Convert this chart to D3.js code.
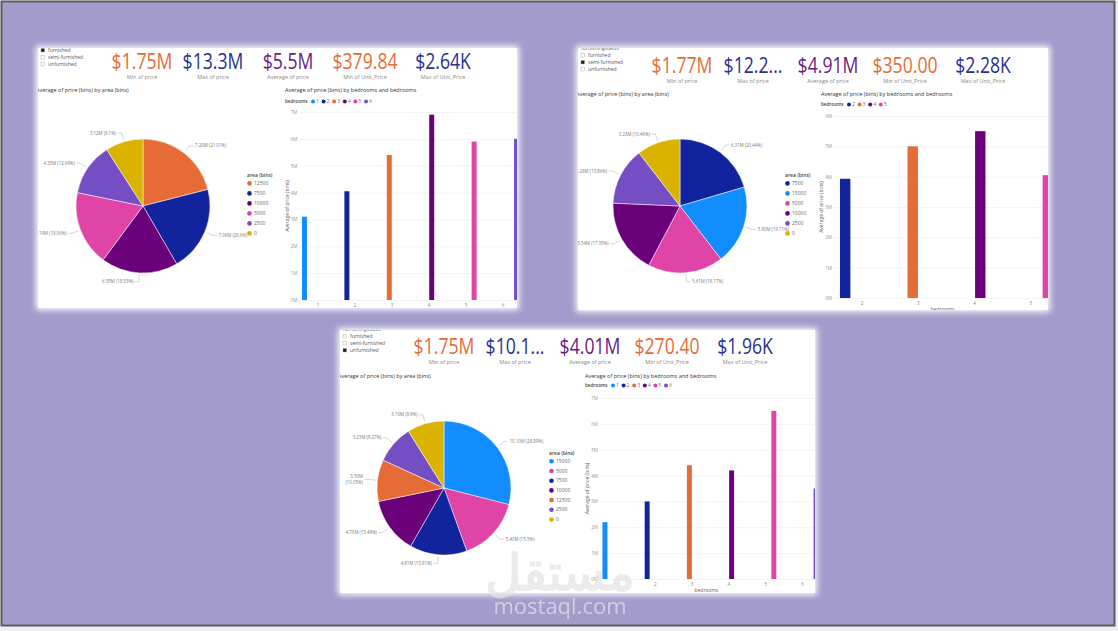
<!DOCTYPE html>
<html>
<head>
<meta charset="utf-8">
<script src="https://cdn.jsdelivr.net/npm/d3@7"></script>
<style>
  body { margin: 0; background: #efefef; }
  svg { display: block; }
  text { font-family: "Open Sans", "Noto Sans", sans-serif; }
</style>
</head>
<body>
<div id="chart"></div>
<script>
// ---- data ----
const furnishingStatus = ["furnished", "semi-furnished", "unfurnished"];
const kpiLabels = ["Min of price", "Max of price", "Average of price", "Min of Unit_Price", "Max of Unit_Price"];

const furnishedKpis = ["$1.75M", "$13.3M", "$5.5M", "$379.84", "$2.64K"];
const semiKpis = ["$1.77M", "$12.2...", "$4.91M", "$350.00", "$2.28K"];
const unfurnishedKpis = ["$1.75M", "$10.1...", "$4.01M", "$270.40", "$1.96K"];

const areaBins = ["15000", "12500", "10000", "7500", "5000", "2500", "0"];
const bedroomKeys = ["1", "2", "3", "4", "5", "6"];

const furnishedAreaBins = ["12500", "7500", "10000", "5000", "2500", "0"];
const furnishedAreaPrice = [7.20, 7.06, 6.35, 6.19, 4.35, 3.12];
const semiAreaBins = ["7500", "15000", "5000", "10000", "2500", "0"];
const semiAreaPrice = [6.31, 5.90, 5.61, 5.54, 4.28, 3.23];
const unfurnishedAreaBins = ["15000", "5000", "7500", "10000", "12500", "2500", "0"];
const unfurnishedAreaPrice = [10.10, 5.40, 4.81, 4.70, 3.50, 3.23, 3.10];

const furnishedBedrooms = ["1", "2", "3", "4", "5", "6"];
const furnishedBedPrice = [3.1, 4.05, 5.4, 6.9, 5.9, 6.0];
const semiBedrooms = ["2", "3", "4", "5"];
const semiBedPrice = [3.93, 5.0, 5.5, 4.05];
const unfurnishedBedrooms = ["1", "2", "3", "4", "5", "6"];
const unfurnishedBedPrice = [2.2, 3.0, 4.4, 4.2, 6.5, 3.5];

// ---- styles ----
const areaColor = d3.scaleOrdinal(areaBins,
  ["#118dff", "#e66c37", "#6b007b", "#12239e", "#e044a7", "#744ec2", "#d9b300"]);
const bedColor = d3.scaleOrdinal(bedroomKeys,
  ["#118dff", "#12239e", "#e66c37", "#6b007b", "#e044a7", "#744ec2"]);
const kpiColors = ["#e66c37", "#2a2f8f", "#6b1a82", "#e66c37", "#2a2f8f"];
const kpiOffsets = [104, 175, 250, 327, 405];
const labelSize = 4.4;

const dashboards = [
  {
    kpis: furnishedKpis, areaBins: furnishedAreaBins, areaPrice: furnishedAreaPrice,
    bedrooms: furnishedBedrooms, bedPrice: furnishedBedPrice,
    layout: { x: 38, y: 48, w: 479, h: 260, kpiY: 69, slicerY: 52, titleY: 92,
      cx: 143, cy: 206, r: 67, legendX: 247, barX: 285, legendY: 103,
      plotX: [299.5, 521.5], plotY: [300, 112], pad: 0.11 }
  },
  {
    kpis: semiKpis, areaBins: semiAreaBins, areaPrice: semiAreaPrice,
    bedrooms: semiBedrooms, bedPrice: semiBedPrice,
    layout: { x: 578, y: 48, w: 470, h: 262, kpiY: 73, slicerY: 57, titleY: 96,
      cx: 680, cy: 206, r: 67, legendX: 785, barX: 821, legendY: 106,
      plotX: [834, 1059], plotY: [298, 116], pad: 0.18 }
  },
  {
    kpis: unfurnishedKpis, areaBins: unfurnishedAreaBins, areaPrice: unfurnishedAreaPrice,
    bedrooms: unfurnishedBedrooms, bedPrice: unfurnishedBedPrice,
    layout: { x: 340, y: 330, w: 475, h: 263, kpiY: 354, slicerY: 338, titleY: 378,
      cx: 444, cy: 488, r: 67, legendX: 549, barX: 585, legendY: 387,
      plotX: [600, 821], plotY: [579, 398], pad: 0.11 }
  }
];

const W = 1118, H = 631;
const svg = d3.select("#chart").append("svg").attr("width", W).attr("height", H);
const defs = svg.append("defs");
defs.append("filter").attr("id", "glow")
  .attr("x", "-5%").attr("y", "-5%").attr("width", "110%").attr("height", "110%")
  .append("feGaussianBlur").attr("stdDeviation", 3);

svg.append("rect").attr("width", W).attr("height", H).attr("fill", "#efefef");
svg.append("rect")
  .attr("x", 1.5).attr("y", 1.5).attr("width", 1113).attr("height", 624)
  .attr("fill", "#a29bcb").attr("stroke", "#5c5c5c").attr("stroke-width", 2);

dashboards.forEach((d, i) => drawPanel(d, i));
drawWatermark();

function drawPanel(p, idx) {
  const L = p.layout;
  svg.append("rect")
    .attr("x", L.x - 2).attr("y", L.y - 2).attr("width", L.w + 4).attr("height", L.h + 4)
    .attr("fill", "#fff").attr("filter", "url(#glow)");

  defs.append("clipPath").attr("id", "clip" + idx)
    .append("rect").attr("x", L.x).attr("y", L.y).attr("width", L.w).attr("height", L.h);

  const g = svg.append("g").attr("clip-path", `url(#clip${idx})`);
  g.append("rect").attr("x", L.x).attr("y", L.y).attr("width", L.w).attr("height", L.h).attr("fill", "#fff");

  drawSlicer(g, idx, L);
  drawKpis(g, p, L);
  drawPie(g, p, L);
  drawBars(g, p, L);
}

function drawSlicer(g, selected, L) {
  g.append("text")
    .attr("x", L.x + 3).attr("y", L.slicerY - 7)
    .attr("font-size", 5).attr("fill", "#666")
    .text("furnishingstatus");

  const rows = g.selectAll("g.slicer-row")
    .data(furnishingStatus)
    .enter().append("g")
    .attr("class", "slicer-row")
    .attr("transform", (d, i) => `translate(${L.x + 3},${L.slicerY + i * 7})`);

  rows.append("rect")
    .attr("x", 0).attr("y", -3.5).attr("width", 3.5).attr("height", 3.5)
    .attr("fill", (d, i) => i === selected ? "#222" : "#fff")
    .attr("stroke", "#999").attr("stroke-width", 0.4);

  rows.append("text")
    .attr("x", 7).attr("y", 0)
    .attr("font-size", 5).attr("fill", "#555")
    .text(d => d);
}

function drawKpis(g, p, L) {
  const cards = g.selectAll("g.kpi")
    .data(p.kpis)
    .enter().append("g")
    .attr("class", "kpi")
    .attr("transform", (d, i) => `translate(${L.x + kpiOffsets[i]},${L.kpiY})`);

  // the card font is a narrow DIN; squeeze Roboto horizontally to get close
  cards.append("text")
    .attr("transform", "scale(0.84,1)")
    .attr("text-anchor", "middle")
    .attr("font-family", "Roboto, sans-serif")
    .attr("font-size", 21)
    .attr("fill", (d, i) => kpiColors[i])
    .text(d => d);

  cards.append("text")
    .attr("text-anchor", "middle")
    .attr("y", 10)
    .attr("font-size", 5.5)
    .attr("fill", "#888")
    .text((d, i) => kpiLabels[i]);
}

function drawPie(g, p, L) {
  g.append("text")
    .attr("x", L.x - 2).attr("y", L.titleY)
    .attr("font-size", 5.5).attr("fill", "#333")
    .text("Average of price (bins) by area (bins)");

  const rows = p.areaPrice.map((v, i) => ({ bin: p.areaBins[i], value: v }));
  const total = d3.sum(p.areaPrice);
  const pie = d3.pie().sort(null).value(d => d.value);
  const arc = d3.arc().innerRadius(0).outerRadius(L.r);
  const innerTick = d3.arc().innerRadius(L.r + 2).outerRadius(L.r + 2);
  const outerTick = d3.arc().innerRadius(L.r + 9).outerRadius(L.r + 9);

  const arcs = g.append("g")
    .attr("transform", `translate(${L.cx},${L.cy})`)
    .selectAll("g.arc")
    .data(pie(rows))
    .enter().append("g")
    .attr("class", "arc");

  arcs.append("path")
    .attr("d", arc)
    .attr("fill", d => areaColor(d.data.bin))
    .attr("stroke", "#fff").attr("stroke-width", 0.5);

  arcs.append("polyline")
    .attr("fill", "none").attr("stroke", "#aaa").attr("stroke-width", 0.5)
    .attr("points", d => {
      const a = innerTick.centroid(d), b = outerTick.centroid(d);
      const side = isRightHalf(d) ? 1 : -1;
      return [a, b, [b[0] + side * 4, b[1]]].map(pt => pt.join(",")).join(" ");
    });

  const labels = arcs.append("text")
    .attr("transform", d => {
      const b = outerTick.centroid(d);
      const side = isRightHalf(d) ? 1 : -1;
      return `translate(${b[0] + side * 5.5},${b[1] + 1.5})`;
    })
    .attr("text-anchor", d => isRightHalf(d) ? "start" : "end")
    .attr("font-size", labelSize).attr("fill", "#777");

  labels.each(function (d) {
    const value = `${d3.format(".2f")(d.data.value)}M`;
    const pct = `(${d3.format(".2~f")(d.data.value / total * 100)}%)`;
    const t = d3.select(this).text(`${value} ${pct}`);
    const left = L.cx + outerTick.centroid(d)[0] - 5.5 - this.getComputedTextLength();
    // wrap onto two lines when the label would run well past the panel's left edge
    if (!isRightHalf(d) && left < L.x - 5) {
      t.text(null);
      t.append("tspan").attr("x", 0).attr("dy", -2.5).text(value);
      t.append("tspan").attr("x", 0).attr("dy", 5.5).text(pct);
    }
  });

  // legend
  const n = rows.length;
  const step = n > 6 ? 9.7 : 10;
  const top = L.cy - (8 + (n - 1) * step) / 2;
  g.append("text")
    .attr("x", L.legendX).attr("y", top)
    .attr("font-size", 5).attr("font-weight", 600).attr("fill", "#444")
    .text("area (bins)");

  const items = g.selectAll("g.area-legend")
    .data(rows)
    .enter().append("g")
    .attr("class", "area-legend")
    .attr("transform", (d, i) => `translate(${L.legendX},${top + 8 + i * step})`);

  items.append("circle").attr("cx", 2.5).attr("cy", -1.6).attr("r", 2.3)
    .attr("fill", d => areaColor(d.bin));
  items.append("text").attr("x", 7).attr("y", 0)
    .attr("font-size", 5).attr("fill", "#666")
    .text(d => d.bin);
}

function isRightHalf(d) {
  return (d.startAngle + d.endAngle) / 2 < Math.PI;
}

function drawBars(g, p, L) {
  g.append("text")
    .attr("x", L.barX).attr("y", L.titleY)
    .attr("font-size", 5.5).attr("fill", "#333")
    .text("Average of price (bins) by bedrooms and bedrooms");

  // legend row
  const leg = g.append("g").attr("transform", `translate(${L.barX},${L.legendY})`);
  leg.append("text").attr("font-size", 4.6).attr("font-weight", 600).attr("fill", "#444").text("bedrooms");
  const items = leg.selectAll("g.bed-legend")
    .data(p.bedrooms)
    .enter().append("g")
    .attr("class", "bed-legend")
    .attr("transform", (d, i) => `translate(${28 + i * 10.6},0)`);
  items.append("circle").attr("cx", 0).attr("cy", -1.5).attr("r", 2).attr("fill", d => bedColor(d));
  items.append("text").attr("x", 3.2).attr("font-size", 4.6).attr("fill", "#666").text(d => d);

  const yMax = Math.ceil(d3.max(p.bedPrice));
  const y = d3.scaleLinear().domain([0, yMax]).range(L.plotY);
  const x0 = d3.scaleBand().domain(p.bedrooms).range(L.plotX)
    .paddingInner(L.pad).paddingOuter(L.pad / 2);
  const x1 = d3.scaleBand().domain(p.bedrooms).range([0, x0.bandwidth()]).padding(0.08);

  // gridlines
  const grid = g.append("g")
    .attr("transform", `translate(${L.plotX[0]},0)`)
    .call(d3.axisLeft(y).ticks(yMax).tickSize(-(L.plotX[1] - L.plotX[0])).tickFormat(""));
  grid.select(".domain").remove();
  grid.selectAll("line").attr("stroke", "#ececec").attr("stroke-width", 0.6);

  const yAxis = g.append("g")
    .attr("transform", `translate(${L.plotX[0]},0)`)
    .call(d3.axisLeft(y).ticks(yMax).tickSize(0).tickPadding(2).tickFormat(d => d + "M"));
  yAxis.select(".domain").remove();
  yAxis.selectAll("text").attr("font-size", 4.6).attr("fill", "#999")
    .attr("font-family", "'Open Sans', sans-serif");

  const xAxis = g.append("g")
    .attr("transform", `translate(0,${L.plotY[0]})`)
    .call(d3.axisBottom(x0).tickSize(0).tickPadding(4));
  xAxis.select(".domain").remove();
  xAxis.selectAll("text").attr("font-size", 4.6).attr("fill", "#888")
    .attr("font-family", "'Open Sans', sans-serif");

  g.append("text")
    .attr("transform", `translate(${L.plotX[0] - 11},${(L.plotY[0] + L.plotY[1]) / 2}) rotate(-90)`)
    .attr("text-anchor", "middle")
    .attr("font-size", 5).attr("fill", "#555")
    .text("Average of price (bins)");

  g.append("text")
    .attr("x", (L.plotX[0] + L.plotX[1]) / 2 - 4).attr("y", L.plotY[0] + 13)
    .attr("text-anchor", "middle")
    .attr("font-size", 5).attr("fill", "#666")
    .text("bedrooms");

  g.selectAll("rect.bar")
    .data(p.bedPrice.map((v, i) => ({ key: p.bedrooms[i], value: v })))
    .enter().append("rect")
    .attr("class", "bar")
    .attr("x", d => x0(d.key) + x1(d.key))
    .attr("width", x1.bandwidth())
    .attr("y", d => y(d.value))
    .attr("height", d => y(0) - y(d.value))
    .attr("fill", d => bedColor(d.key));
}

function drawWatermark() {
  const wm = svg.append("g").attr("opacity", 0.72).attr("fill", "#e4e4e4");
  wm.append("text")
    .attr("x", 560).attr("y", 590)
    .attr("text-anchor", "middle")
    .attr("font-family", "'DejaVu Sans', sans-serif")
    .attr("font-weight", "bold")
    .attr("font-size", 50)
    .text("مستقل");
  wm.append("text")
    .attr("x", 560).attr("y", 614)
    .attr("text-anchor", "middle")
    .attr("font-family", "Roboto, sans-serif")
    .attr("font-size", 22)
    .text("mostaql.com");
}
</script>
</body>
</html>
